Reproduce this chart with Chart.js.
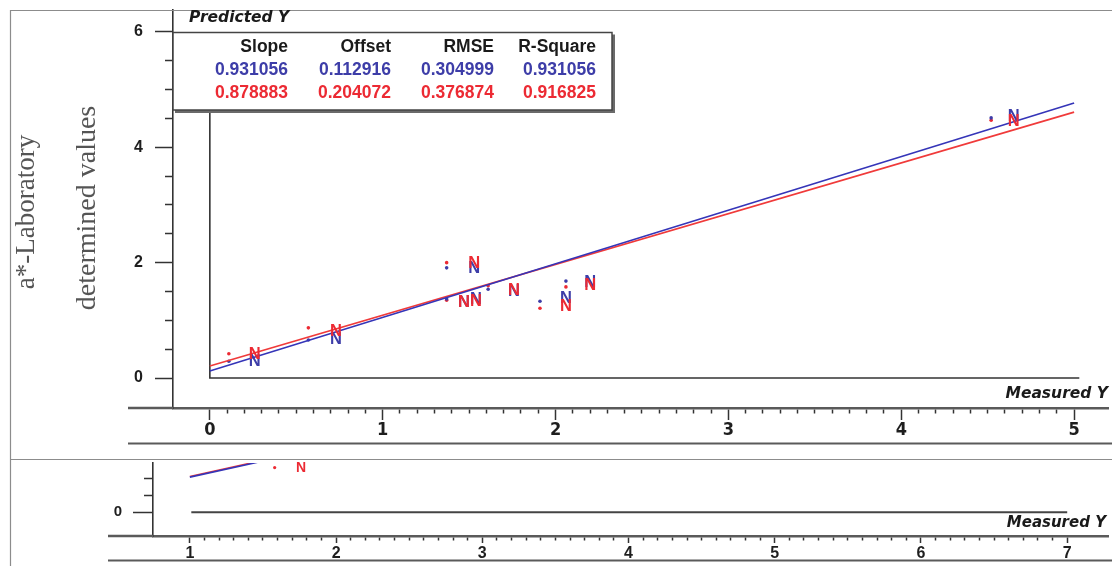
<!DOCTYPE html>
<html>
<head>
<meta charset="utf-8">
<script src="https://cdn.jsdelivr.net/npm/chart.js@4.4.1/dist/chart.umd.min.js"></script>
<style>
html,body{margin:0;padding:0;background:#fff;}
#wrap{position:relative;width:1112px;height:566px;overflow:hidden;background:#fff;}
#c1{position:absolute;left:0;top:0;}
#c2{position:absolute;left:0;top:459px;}
</style>
</head>
<body>
<div id="wrap">
<canvas id="c1" width="1112" height="459"></canvas>
<canvas id="c2" width="1112" height="107"></canvas>
</div>
<script>
// ---------- data ----------
const xTickLabels = ['0', '1', '2', '3', '4', '5'];
const yTickLabels = ['0', '2', '4', '6'];
const statHeaders = ['Slope', 'Offset', 'RMSE', 'R-Square'];
const statsBlue = ['0.931056', '0.112916', '0.304999', '0.931056'];
const statsRed = ['0.878883', '0.204072', '0.376874', '0.916825'];
const yTitleLines = ['a*-Laboratory', 'determined values'];
const xAxisName = 'Measured Y';
const yAxisName = 'Predicted Y';

// "N" marked samples: measured value, blue prediction, red prediction
const nMeasured = [0.26, 0.73, 1.47, 1.53, 1.54, 1.76, 2.06, 2.20, 4.65];
const nBlue     = [0.31, 0.69, 1.33, 1.91, 1.38, 1.52, 1.40, 1.68, 4.55];
const nRed      = [0.43, 0.83, 1.33, 2.01, 1.35, 1.54, 1.25, 1.63, 4.47];

// dot marked samples
const dotMeasured = [0.11, 0.57, 1.37, 1.37, 1.61, 1.91, 2.06, 4.52];
const dotBlue     = [0.29, 0.66, 1.91, 1.37, 1.54, 1.33, 1.68, 4.51];
const dotRed      = [0.42, 0.87, 2.00, 1.35, 1.60, 1.21, 1.58, 4.47];

// fitted lines (end points)
const fitX    = [0, 5];
const fitBlue = [0.12, 4.77];
const fitRed  = [0.21, 4.61];

// lower (cut-off) panel
const bTickLabels = ['1', '2', '3', '4', '5', '6', '7'];
const bYTickLabels = ['0'];
const bFitX    = [1.0, 1.7];
const bFitBlue = [1.03, 1.69];
const bFitRed  = [1.05, 1.71];
const bDotX = [1.58];
const bDotY = [1.31];
const bNX = [1.76];
const bNY = [1.33];

// ---------- helpers ----------
const BLUE = '#3d3da8';
const RED = '#ec2a33';
const LINE_BLUE = '#3535b8';
const LINE_RED = '#f03a3a';
const pts = (xs, ys) => xs.map((v, i) => ({x: v, y: ys[i]}));
const near = (v, list) => list.includes(String(Math.round(v * 10) / 10)) && Math.abs(v - Math.round(v)) < 1e-6;
const SANS = '"Liberation Sans", Arial, sans-serif';
const NARROW = '"Liberation Sans Narrow", "DejaVu Sans Condensed", "Liberation Sans", Arial, sans-serif';
const WIDE = '"DejaVu Sans", "Liberation Sans", sans-serif';

function lineDs(xs, ys, color, w) {
  return {type: 'scatter', data: pts(xs, ys), showLine: true, borderColor: color, backgroundColor: color,
          borderWidth: w, pointRadius: 0, tension: 0};
}
function dotDs(xs, ys, color, r) {
  return {type: 'scatter', data: pts(xs, ys), showLine: false, borderWidth: 0,
          backgroundColor: color, pointRadius: r, pointStyle: 'circle'};
}
function glyphDs(xs, ys, color, size) {
  return {type: 'scatter', data: pts(xs, ys), showLine: false, pointRadius: 0,
          glyph: 'N', glyphColor: color, glyphSize: size};
}
function drawGlyphs(chart) {
  const ctx = chart.ctx;
  chart.data.datasets.forEach((ds, i) => {
    if (!ds.glyph) return;
    const meta = chart.getDatasetMeta(i);
    ctx.save();
    ctx.fillStyle = ds.glyphColor;
    ctx.font = 'bold ' + ds.glyphSize + 'px ' + SANS;
    ctx.textAlign = 'center';
    ctx.textBaseline = 'middle';
    meta.data.forEach(p => ctx.fillText(ds.glyph, p.x, p.y + 1));
    ctx.restore();
  });
}

// ---------- top chart ----------
const topDeco = {
  id: 'topDeco',
  beforeDatasetsDraw(chart) {
    const {ctx, chartArea: a, scales: {x, y}} = chart;
    ctx.save();
    ctx.strokeStyle = '#8c8c8c'; ctx.lineWidth = 1.2;
    ctx.beginPath(); ctx.moveTo(10.5, chart.height); ctx.lineTo(10.5, 10.5); ctx.lineTo(chart.width, 10.5); ctx.stroke();
    ctx.strokeStyle = '#5a5a5a'; ctx.lineWidth = 2.5;
    ctx.beginPath(); ctx.moveTo(128, a.bottom); ctx.lineTo(a.left, a.bottom); ctx.stroke();
    ctx.lineWidth = 2;
    ctx.beginPath(); ctx.moveTo(128, 443.5); ctx.lineTo(chart.width, 443.5); ctx.stroke();
    const x0 = x.getPixelForValue(0), y0 = y.getPixelForValue(0);
    ctx.strokeStyle = '#333'; ctx.lineWidth = 1.6;
    ctx.beginPath(); ctx.moveTo(x0, 110); ctx.lineTo(x0, y0); ctx.lineTo(x.getPixelForValue(5.03), y0); ctx.stroke();
    ctx.restore();
  },
  afterDatasetsDraw(chart) {
    const {ctx, chartArea: a, scales: {y}} = chart;
    drawGlyphs(chart);
    ctx.save();
    const bx = a.left, by = Math.round(y.getPixelForValue(6)) + 0.5, bw = 612 - a.left, bh = 110 - by;
    ctx.fillStyle = '#fff'; ctx.fillRect(bx, by, bw, bh);
    ctx.fillStyle = '#6a6a6a';
    ctx.fillRect(bx + bw, by + 2, 3, bh + 1);
    ctx.fillRect(bx + 2, by + bh, bw + 1, 3);
    ctx.strokeStyle = '#444'; ctx.lineWidth = 1.5; ctx.strokeRect(bx, by, bw, bh);
    const colRight = [288, 391, 494, 596];
    ctx.font = 'bold 17.5px ' + SANS;
    ctx.textAlign = 'right'; ctx.textBaseline = 'middle';
    statHeaders.forEach((t, i) => { ctx.fillStyle = '#1a1a1a'; ctx.fillText(t, colRight[i], 47); });
    statsBlue.forEach((t, i) => { ctx.fillStyle = BLUE; ctx.fillText(t, colRight[i], 70); });
    statsRed.forEach((t, i) => { ctx.fillStyle = RED; ctx.fillText(t, colRight[i], 93); });
    ctx.fillStyle = '#1a1a1a';
    ctx.font = 'italic bold 15.5px ' + WIDE;
    ctx.textAlign = 'left';
    ctx.fillText(yAxisName, 189, 18);
    ctx.textAlign = 'right';
    ctx.fillText(xAxisName, 1108, 394);
    ctx.fillStyle = '#555';
    ctx.textAlign = 'center';
    [[27, 212, 27], [88, 208, 28]].forEach((p, i) => {
      ctx.save(); ctx.translate(p[0], p[1]); ctx.rotate(-Math.PI / 2);
      ctx.font = p[2] + 'px "Liberation Serif", "Times New Roman", serif';
      ctx.fillText(yTitleLines[i], 0, 0); ctx.restore();
    });
    ctx.restore();
  }
};

new Chart(document.getElementById('c1'), {
  type: 'scatter',
  data: {
    datasets: [
      lineDs(fitX, fitBlue, LINE_BLUE, 1.6),
      lineDs(fitX, fitRed, LINE_RED, 1.6),
      dotDs(dotMeasured, dotBlue, BLUE, 1.8),
      dotDs(dotMeasured, dotRed, RED, 1.8),
      glyphDs(nMeasured, nBlue, BLUE, 16.5),
      glyphDs(nMeasured, nRed, RED, 16.5)
    ]
  },
  options: {
    responsive: false, animation: false, devicePixelRatio: 1,
    layout: {padding: {left: 0, right: 0, top: 10, bottom: 0}},
    plugins: {legend: {display: false}, tooltip: {enabled: false}},
    events: [],
    scales: {
      x: {
        type: 'linear', position: 'bottom', min: -0.2131, max: 5.196,
        afterBuildTicks: s => { s.ticks = s.ticks.filter(t => t.value >= -1e-9 && t.value <= 5 + 1e-9); },
        afterFit: s => { s.height = 51; s.paddingLeft = 0; s.paddingRight = 0; },
        ticks: {stepSize: 0.1, includeBounds: false, autoSkip: false, maxRotation: 0, minRotation: 0,
                padding: 0, color: '#1e1e1e', font: {family: NARROW, size: 18, weight: 'bold'},
                callback: v => near(v, xTickLabels) ? String(Math.round(v)) : ''},
        grid: {drawOnChartArea: false, drawTicks: true, tickLength: 12, tickWidth: 1.5, tickColor: '#333',
               tickBorderDash: c => (c.tick && Math.abs(c.tick.value - Math.round(c.tick.value)) < 1e-6) ? [] : [4, 100]},
        border: {display: true, color: '#5a5a5a', width: 2.5}
      },
      y: {
        type: 'linear', position: 'left', min: -0.52, max: 6.381,
        afterBuildTicks: s => { s.ticks = s.ticks.filter(t => t.value >= -1e-9 && t.value <= 6 + 1e-9); },
        afterFit: s => { s.width = 173; s.paddingTop = 0; s.paddingBottom = 0; },
        ticks: {stepSize: 0.5, includeBounds: false, autoSkip: false, padding: 12,
                color: '#1e1e1e', font: {family: SANS, size: 16, weight: 'bold'},
                callback: v => yTickLabels.includes(String(v)) ? String(v) : ''},
        grid: {drawOnChartArea: false, drawTicks: true, tickLength: 18, tickWidth: 1.5, tickColor: '#333',
               tickBorderDash: c => (c.tick && yTickLabels.includes(String(c.tick.value))) ? [] : [0, 10, 8, 100]},
        border: {display: true, color: '#333', width: 1.6}
      }
    }
  },
  plugins: [topDeco]
});

// ---------- bottom (cut-off) chart ----------
const botDeco = {
  id: 'botDeco',
  beforeDatasetsDraw(chart) {
    const {ctx, chartArea: a, scales: {x, y}} = chart;
    ctx.save();
    ctx.strokeStyle = '#8c8c8c'; ctx.lineWidth = 1.2;
    ctx.beginPath(); ctx.moveTo(10.5, chart.height); ctx.lineTo(10.5, 0.5); ctx.lineTo(chart.width, 0.5); ctx.stroke();
    ctx.strokeStyle = '#5a5a5a'; ctx.lineWidth = 2.5;
    ctx.beginPath(); ctx.moveTo(108, a.bottom); ctx.lineTo(a.left, a.bottom); ctx.stroke();
    ctx.lineWidth = 2;
    ctx.beginPath(); ctx.moveTo(108, 101.5); ctx.lineTo(chart.width, 101.5); ctx.stroke();
    const y0 = y.getPixelForValue(0);
    ctx.strokeStyle = '#444'; ctx.lineWidth = 2;
    ctx.beginPath(); ctx.moveTo(x.getPixelForValue(1.01), y0); ctx.lineTo(x.getPixelForValue(7.0), y0); ctx.stroke();
    ctx.restore();
  },
  afterDatasetsDraw(chart) {
    const ctx = chart.ctx;
    drawGlyphs(chart);
    ctx.save();
    ctx.fillStyle = '#1a1a1a';
    ctx.font = 'italic bold 15px ' + WIDE;
    ctx.textAlign = 'right'; ctx.textBaseline = 'middle';
    ctx.fillText(xAxisName, 1106, 64);
    ctx.restore();
  }
};

new Chart(document.getElementById('c2'), {
  type: 'scatter',
  data: {
    datasets: [
      lineDs(bFitX, bFitBlue, LINE_BLUE, 1.6),
      lineDs(bFitX, bFitRed, LINE_RED, 1.6),
      dotDs(bDotX, bDotY, RED, 1.6),
      glyphDs(bNX, bNY, RED, 14)
    ]
  },
  options: {
    responsive: false, animation: false, devicePixelRatio: 1,
    layout: {padding: {left: 0, right: 0, top: 0, bottom: 0}},
    plugins: {legend: {display: false}, tooltip: {enabled: false}},
    events: [],
    scales: {
      x: {
        type: 'linear', position: 'bottom', min: 0.748, max: 7.279,
        afterBuildTicks: s => { s.ticks = s.ticks.filter(t => t.value >= 1 - 1e-9 && t.value <= 7 + 1e-9); },
        afterFit: s => { s.height = 30; s.paddingLeft = 0; s.paddingRight = 0; },
        ticks: {stepSize: 0.1, includeBounds: false, autoSkip: false, maxRotation: 0, minRotation: 0,
                padding: 1, color: '#1e1e1e', font: {family: SANS, size: 16, weight: 'bold'},
                callback: v => near(v, bTickLabels) ? String(Math.round(v)) : ''},
        grid: {drawOnChartArea: false, drawTicks: true, tickLength: 7, tickWidth: 1.5, tickColor: '#333',
               tickBorderDash: c => (c.tick && Math.abs(c.tick.value - Math.round(c.tick.value)) < 1e-6) ? [] : [3, 100]},
        border: {display: true, color: '#5a5a5a', width: 2.5}
      },
      y: {
        type: 'linear', position: 'left', min: -0.694, max: 1.444,
        afterBuildTicks: s => { s.ticks = s.ticks.filter(t => t.value >= -1e-9 && t.value <= 1 + 1e-9); },
        afterFit: s => { s.width = 153; s.paddingTop = 0; s.paddingBottom = 0; },
        ticks: {stepSize: 0.5, includeBounds: false, autoSkip: false, padding: 11,
                color: '#1e1e1e', font: {family: SANS, size: 15, weight: 'bold'},
                callback: v => bYTickLabels.includes(String(v)) ? String(v) : ''},
        grid: {drawOnChartArea: false, drawTicks: true, tickLength: 20, tickWidth: 1.5, tickColor: '#333',
               tickBorderDash: c => (c.tick && bYTickLabels.includes(String(c.tick.value))) ? [] : [0, 11, 9, 100]},
        border: {display: true, color: '#333', width: 1.6}
      }
    }
  },
  plugins: [botDeco]
});
</script>
</body>
</html>
